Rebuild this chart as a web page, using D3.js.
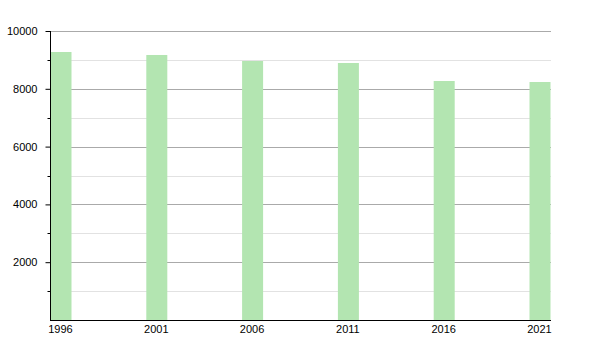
<!DOCTYPE html>
<html><head><meta charset="utf-8">
<script src="https://cdn.jsdelivr.net/npm/d3@7"></script>
<style>body{margin:0;background:#fff}svg{display:block}text{font-family:"Liberation Sans",Arial,sans-serif;font-size:11px;fill:#000}</style>
</head><body><svg id="c" width="600" height="350"></svg>
<script>
const years = ["1996","2001","2006","2011","2016","2021"];
const population = [9273, 9170, 8962, 8893, 8270, 8235];
const majorTicks = [2000, 4000, 6000, 8000, 10000];
const minorTicks = [1000, 3000, 5000, 7000, 9000];

(function(){
const svg = d3.select("#c");
const mL = 50, mR = 551, mT = 31, mB = 320;
const y = d3.scaleLinear().domain([0, 10000]).range([mB, mT]);
const x = d3.scaleBand().domain(years).range([mL + 0.5, mL + 0.5 + 95.8 * 6]).paddingInner(0).paddingOuter(0);
const barW = 21;

svg.append("g").selectAll("line").data(minorTicks).join("line")
  .attr("x1", mL).attr("x2", mR).attr("y1", d => Math.round(y(d)) + 0.5).attr("y2", d => Math.round(y(d)) + 0.5)
  .attr("stroke", "#e2e2e2").attr("stroke-width", 1);
svg.append("g").selectAll("line").data(majorTicks).join("line")
  .attr("x1", mL).attr("x2", mR).attr("y1", d => Math.round(y(d)) + 0.5).attr("y2", d => Math.round(y(d)) + 0.5)
  .attr("stroke", "#aaaaaa").attr("stroke-width", 1);

svg.append("g").selectAll("rect").data(years).join("rect")
  .attr("x", d => x(d)).attr("width", barW)
  .attr("y", (d, i) => y(population[i])).attr("height", (d, i) => mB - y(population[i]))
  .attr("fill", "#b3e5b1");

const yAxis = d3.axisLeft(y).tickValues(majorTicks).tickSize(5).tickPadding(8).tickFormat(d3.format("d"));
const gy = svg.append("g").attr("transform", `translate(${mL + 0.5},0)`).call(yAxis);
gy.select(".domain").attr("d", `M0,${mT}V${mB}`).attr("stroke", "#000");
gy.selectAll(".tick line").attr("stroke", "#000");
gy.selectAll(".tick text").attr("font-size", 11).attr("font-family", "Liberation Sans, Arial, sans-serif").attr("fill", "#000");
gy.append("g").selectAll("line").data(minorTicks).join("line")
  .attr("x1", -3).attr("x2", 0).attr("y1", d => Math.round(y(d)) + 0.5).attr("y2", d => Math.round(y(d)) + 0.5).attr("stroke", "#000");

const gx = svg.append("g").attr("transform", `translate(0,${mB + 0.5})`);
gx.append("line").attr("x1", mL).attr("x2", mR).attr("stroke", "#000");
gx.selectAll("text").data(years).join("text")
  .attr("x", d => x(d) + barW / 2 - 0.5).attr("y", 12).attr("text-anchor", "middle")
  .text(d => d);
})();
</script></body></html>
